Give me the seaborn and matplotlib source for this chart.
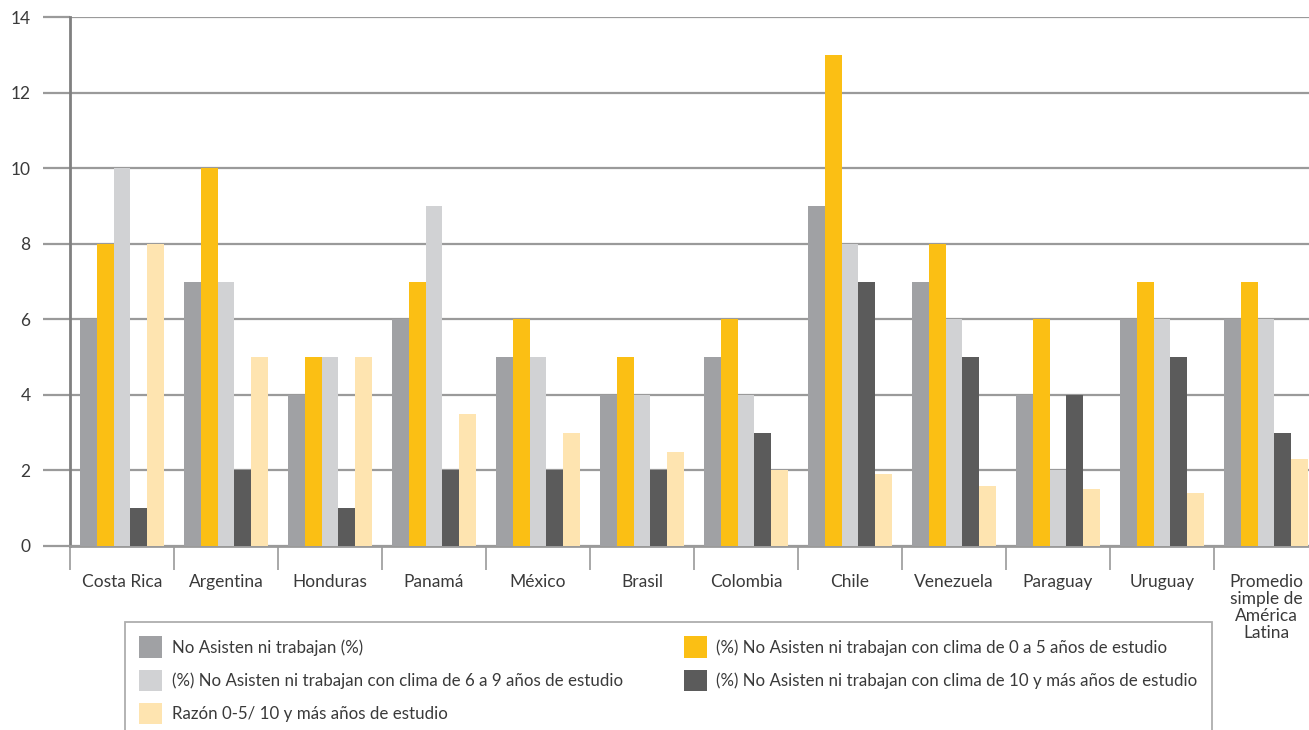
import matplotlib
matplotlib.use("Agg")
import matplotlib.pyplot as plt
import seaborn as sns
import pandas as pd
import numpy as np

paises = ["Costa Rica", "Argentina", "Honduras", "Panamá", "México", "Brasil",
          "Colombia", "Chile", "Venezuela", "Paraguay", "Uruguay",
          "Promedio\nsimple de\nAmérica\nLatina"]
series = [
    "No Asisten ni trabajan (%)",
    "(%) No Asisten ni trabajan con clima de 0 a 5 años de estudio",
    "(%) No Asisten ni trabajan con clima de 6 a 9 años de estudio",
    "(%) No Asisten ni trabajan con clima de 10 y más años de estudio",
    "Razón 0-5/ 10 y más años de estudio",
]
no_asisten = [6, 7, 4, 6, 5, 4, 5, 9, 7, 4, 6, 6]
clima_0_5 = [8, 10, 5, 7, 6, 5, 6, 13, 8, 6, 7, 7]
clima_6_9 = [10, 7, 5, 9, 5, 4, 4, 8, 6, 2, 6, 6]
clima_10 = [1, 2, 1, 2, 2, 2, 3, 7, 5, 4, 5, 3]
razon = [8, 5, 5, 3.5, 3.0, 2.5, 2.0, 1.9, 1.6, 1.5, 1.4, 2.3]
colores = ["#A0A1A4", "#FBBF14", "#D1D2D4", "#5B5B5B", "#FEE4B0"]

valores = [no_asisten, clima_0_5, clima_6_9, clima_10, razon]
rows = []
for s, vals in zip(series, valores):
    for p, v in zip(paises, vals):
        rows.append({"pais": p, "serie": s, "valor": v})
df = pd.DataFrame(rows)

sns.set_style("white")
plt.rcParams["font.family"] = ["Lato", "DejaVu Sans"]

fig = plt.figure(figsize=(13.09, 7.30), dpi=100)
W, H = 1309, 730
ax = fig.add_axes([70 / W, 184 / H, 1248 / W, 529 / H])

sns.barplot(data=df, x="pais", y="valor", hue="serie", order=paises,
            hue_order=series, palette=colores, saturation=1, width=0.8,
            linewidth=0, edgecolor="none", ax=ax, zorder=3)

ax.set_ylim(0, 14)
ax.set_xlim(-0.5, len(paises) - 0.5)
ax.set_yticks(np.arange(0, 15, 2))
ax.yaxis.grid(True, color="#9A9A9A", linewidth=1.6, zorder=0)
ax.set_axisbelow(True)
ax.set_xlabel("")
ax.set_ylabel("")

for side in ["top", "right"]:
    ax.spines[side].set_visible(False)
ax.spines["left"].set_color("#808080")
ax.spines["left"].set_linewidth(2)
ax.spines["bottom"].set_color("#9A9A9A")
ax.spines["bottom"].set_linewidth(2)

ax.tick_params(axis="y", left=True, length=19.5, width=1.6, color="#9A9A9A",
               pad=9, labelsize=12.5, labelcolor="#3a3a3a", direction="out")
ax.set_xticks(np.arange(-0.5, len(paises) - 0.5, 1.0), minor=True)
ax.tick_params(axis="x", which="minor", bottom=True, length=17, width=1.2,
               color="#9A9A9A", direction="out")
ax.tick_params(axis="x", which="major", bottom=True, length=0, pad=20,
               labelsize=12.5, labelcolor="#3a3a3a")
for lbl in ax.get_xticklabels():
    lbl.set_verticalalignment("top")
    lbl.set_linespacing(1.08)

handles, labels = ax.get_legend_handles_labels()
ax.get_legend().remove()
order = [0, 2, 4, 1, 3]
leg = fig.legend([handles[i] for i in order], [labels[i] for i in order],
                 loc="upper left", bbox_to_anchor=(125 / W, 1 - 622 / H),
                 ncol=2, frameon=True, fancybox=False, fontsize=12.2,
                 handlelength=1.35, handleheight=1.55, handletextpad=0.55,
                 labelspacing=0.72, columnspacing=3.6, borderpad=0.85,
                 borderaxespad=0)
leg.get_frame().set_edgecolor("#9A9A9A")
leg.get_frame().set_linewidth(1.3)
for t in leg.get_texts():
    t.set_color("#3a3a3a")

fig.savefig("out.png", dpi=100)
